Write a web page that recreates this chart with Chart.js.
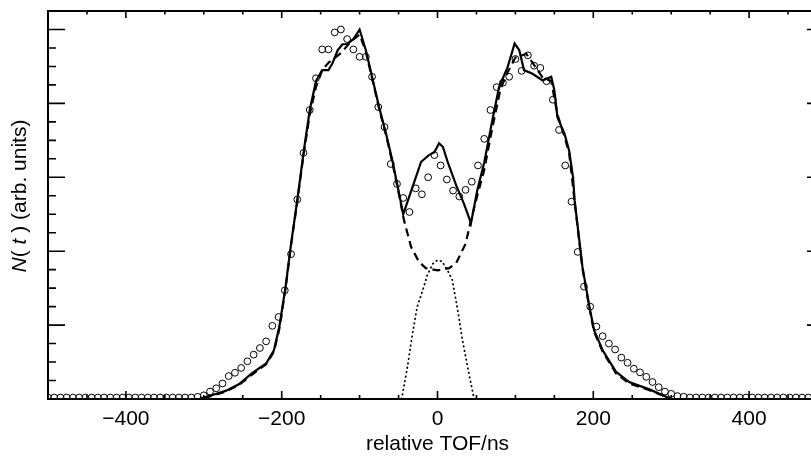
<!DOCTYPE html>
<html lang="en">

<head>
   <meta charset="UTF-8">
   <title>relative TOF</title>
   <style>
      body { margin: 0; overflow: hidden; background: #fff; }
      #wrap { width: 840px; height: 458px; }
   </style>
</head>

<body>
   <div id="wrap"><canvas id="tof-chart" width="840" height="458"></canvas></div>
   <script src="https://cdn.jsdelivr.net/npm/chart.js"></script>

   <script>
      //*************************  DATA  *****************//

      // measured points (circles), relative TOF in ns
      const circleT = [
         -500, -492, -484, -476, -468, -460, -452, -444, -436, -428, -420, -412, -404,
         -396, -388, -380, -372, -364, -356, -348, -340, -332, -324, -316, -308,
         -300, -292, -284, -276, -268, -260, -252, -244, -236, -228, -220, -212, -204,
         -196, -188, -180, -172, -164, -156, -148, -140, -132, -124, -116, -108, -100,
         -92, -84, -76, -68, -60, -52, -44, -36, -28, -20, -12, -4,
         4, 12, 20, 28, 36, 44, 52, 60, 68, 76, 84, 92, 100,
         108, 116, 124, 132, 140, 148, 156, 164, 172, 180, 188, 196, 204,
         212, 220, 228, 236, 244, 252, 260, 268, 276, 284, 292, 300, 308,
         316, 324, 332, 340, 348, 356, 364, 372, 380, 388, 396, 404, 412,
         420, 428, 436, 444, 452, 460, 468, 476
      ];
      const circleN = [
         0.02, 0.02, 0.02, 0.02, 0.02, 0.02, 0.02, 0.02, 0.02, 0.02, 0.02, 0.02, 0.02,
         0.02, 0.02, 0.02, 0.02, 0.02, 0.02, 0.02, 0.02, 0.02, 0.02, 0.02, 0.03,
         0.05, 0.10, 0.145, 0.21, 0.31, 0.355, 0.42, 0.51, 0.60, 0.69, 0.78, 0.99, 1.11,
         1.47, 1.96, 2.70, 3.33, 3.91, 4.34, 4.73, 4.73, 4.96, 5.00, 4.87, 4.73, 4.63,
         4.63, 4.36, 3.95, 3.68, 3.18, 2.91, 2.72, 2.53, 2.85, 2.77, 3.00, 3.30,
         3.16, 2.97, 2.82, 2.74, 2.83, 2.94, 3.16, 3.52, 3.91, 4.22, 4.28, 4.36, 4.60,
         4.44, 4.65, 4.51, 4.48, 4.30, 4.05, 3.64, 3.16, 2.67, 1.99, 1.52, 1.25, 0.98,
         0.85, 0.75, 0.67, 0.56, 0.49, 0.41, 0.36, 0.30, 0.23, 0.16, 0.10, 0.07, 0.04,
         0.03, 0.02, 0.02, 0.02, 0.02, 0.02, 0.02, 0.02, 0.02, 0.02, 0.02, 0.02, 0.02,
         0.02, 0.02, 0.02, 0.02, 0.02, 0.02, 0.02, 0.02
      ];

      // total fit (solid)
      const solidT = [-500, -306, -290, -272, -255, -238, -220, -210, -203, -195, -188, -180,
         -172, -164, -156, -148, -140, -135, -128, -122, -116, -108, -100, -92, -84, -75,
         -66, -58, -51, -44, -32, -21, -11, -4, 2, 7, 13, 24, 34, 43, 51, 60, 70, 79, 90,
         99, 105, 111, 122, 135, 146, 150, 154, 163, 169, 174, 176, 186, 195, 201, 212,
         229, 246, 272, 300, 500];
      const solidN = [0, 0, 0.05, 0.11, 0.20, 0.35, 0.48, 0.66, 0.98, 1.52, 2.10, 2.69,
         3.33, 3.91, 4.30, 4.45, 4.45, 4.54, 4.72, 4.80, 4.80, 4.87, 5.00, 4.72, 4.36, 3.95,
         3.59, 3.23, 2.87, 2.50, 2.87, 3.21, 3.30, 3.34, 3.46, 3.41, 3.21, 2.89, 2.64, 2.38,
         2.82, 3.20, 3.75, 4.22, 4.49, 4.81, 4.72, 4.45, 4.40, 4.31, 4.36, 4.18, 3.81, 3.59,
         3.36, 3.00, 2.69, 1.79, 1.25, 0.93, 0.66, 0.37, 0.23, 0.13, 0, 0];

      // broad component (dashed)
      const dashedT = [-500, -306, -290, -272, -255, -238, -220, -210, -203, -195, -188,
         -180, -172, -164, -156, -148, -140, -124, -110, -100, -92, -84, -75, -66, -58, -51,
         -43, -34, -24, -15, 0, 15, 24, 36, 43, 51, 60, 70, 81, 90, 100, 114, 122, 135, 146,
         154, 163, 169, 176, 186, 195, 201, 212, 229, 246, 272, 300, 500];
      const dashedN = [0, 0, 0.04, 0.10, 0.19, 0.33, 0.47, 0.64, 0.95, 1.50, 2.08,
         2.67, 3.30, 3.85, 4.22, 4.45, 4.55, 4.68, 4.85, 4.93, 4.70, 4.34, 3.93, 3.57, 3.20,
         2.85, 2.42, 2.06, 1.86, 1.77, 1.74, 1.77, 1.84, 2.10, 2.42, 2.75, 3.10, 3.65, 4.20,
         4.42, 4.62, 4.67, 4.55, 4.35, 4.30, 3.85, 3.55, 3.33, 2.67, 1.77, 1.23, 0.91, 0.64,
         0.35, 0.21, 0.12, 0, 0];

      // narrow central component (dotted)
      const dottedT = [-46, -38.5, -32, -26, -19, -13, -6, 0, 6, 13, 19, 26, 32, 38.5, 47];
      const dottedN = [0, 0.44, 0.89, 1.25, 1.47, 1.68, 1.83, 1.88, 1.86, 1.74, 1.61, 1.20,
         0.80, 0.44, 0];

      const xLabelTicks = [-400, -200, 0, 200, 400];

      function pts(t, n) {
         return t.map((v, i) => ({ x: v, y: n[i] }));
      }

      //*************************  FRAME + INWARD TICKS  *****************//

      const frameTicks = {
         id: 'frameTicks',
         afterDraw(chart) {
            const { ctx, chartArea: a, scales: { x, y } } = chart;
            ctx.save();
            ctx.strokeStyle = '#000';
            ctx.lineWidth = 2;
            ctx.strokeRect(a.left, a.top, a.right - a.left, a.bottom - a.top);

            ctx.lineWidth = 1.6;
            ctx.beginPath();
            x.ticks.forEach(tk => {
               const px = x.getPixelForValue(tk.value);
               const major = xLabelTicks.includes(tk.value);
               ctx.moveTo(px, a.bottom);
               ctx.lineTo(px, a.bottom - (major ? 8 : 4));
               ctx.moveTo(px, a.top);
               ctx.lineTo(px, a.top + (major ? 7 : 3.5));
            });
            y.ticks.forEach(tk => {
               const py = y.getPixelForValue(tk.value);
               const major = Math.abs(tk.value - Math.round(tk.value)) < 1e-6;
               ctx.moveTo(a.left, py);
               ctx.lineTo(a.left + (major ? 17 : 8), py);
               if (major) {
                  ctx.moveTo(a.right, py);
                  ctx.lineTo(a.right - 20, py);
               }
            });
            ctx.stroke();

            // y title with italic N and t
            const parts = [
               ['italic', 'N'], ['normal', '( '], ['italic', 't'], ['normal', ' ) (arb. units)']
            ];
            const fam = "21px 'Liberation Sans', Arial, sans-serif";
            let total = 0;
            parts.forEach(p => { ctx.font = p[0] + ' ' + fam; total += ctx.measureText(p[1]).width; });
            ctx.translate(20, 196);
            ctx.rotate(-Math.PI / 2);
            ctx.fillStyle = '#000';
            ctx.textBaseline = 'middle';
            let cx = -total / 2;
            parts.forEach(p => {
               ctx.font = p[0] + ' ' + fam;
               ctx.fillText(p[1], cx, 0);
               cx += ctx.measureText(p[1]).width;
            });
            ctx.restore();
         }
      };

      //*************************  CHART  *****************//

      Chart.defaults.font.family = "'Liberation Sans', Arial, sans-serif";
      Chart.defaults.color = '#000';

      new Chart(document.getElementById('tof-chart'), {
         type: 'scatter',
         data: {
            datasets: [
               {
                  label: 'total',
                  data: pts(solidT, solidN),
                  showLine: true,
                  borderColor: '#000',
                  borderWidth: 2.2,
                  pointRadius: 0,
                  tension: 0
               },
               {
                  label: 'broad',
                  data: pts(dashedT, dashedN),
                  showLine: true,
                  borderColor: '#000',
                  borderWidth: 2.2,
                  borderDash: [8, 5],
                  pointRadius: 0,
                  tension: 0
               },
               {
                  label: 'narrow',
                  data: pts(dottedT, dottedN),
                  showLine: true,
                  borderColor: '#000',
                  borderWidth: 1.8,
                  borderDash: [0.5, 4],
                  borderCapStyle: 'round',
                  pointRadius: 0,
                  tension: 0
               },
               {
                  label: 'measured',
                  data: pts(circleT, circleN),
                  showLine: false,
                  pointStyle: 'circle',
                  pointRadius: 3.4,
                  borderWidth: 1,
                  borderColor: '#000',
                  backgroundColor: 'rgba(0,0,0,0)'
               }
            ]
         },
         options: {
            responsive: false,
            animation: false,
            devicePixelRatio: 1,
            layout: { padding: { top: 11, right: 13, left: 0, bottom: 0 } },
            plugins: { legend: { display: false }, tooltip: { enabled: false } },
            scales: {
               x: {
                  type: 'linear',
                  min: -500,
                  max: 500,
                  grid: { display: false, drawTicks: false },
                  border: { display: false },
                  ticks: {
                     stepSize: 50,
                     autoSkip: false,
                     maxRotation: 0,
                     padding: 8,
                     font: { size: 21 },
                     callback: v => xLabelTicks.includes(v) ? (v < 0 ? '\u2212' + (-v) : String(v)) : ''
                  },
                  title: {
                     display: true,
                     text: 'relative TOF/ns',
                     font: { size: 21 },
                     padding: { top: 0, bottom: 1 }
                  },
                  afterFit: s => { s.height = 59; }
               },
               y: {
                  min: 0,
                  max: 5.25,
                  grid: { display: false, drawTicks: false },
                  border: { display: false },
                  ticks: { stepSize: 0.25, display: false },
                  afterFit: s => { s.height = s.height; s.width = 48; }
               }
            }
         },
         plugins: [frameTicks]
      });
   </script>
</body>

</html>
